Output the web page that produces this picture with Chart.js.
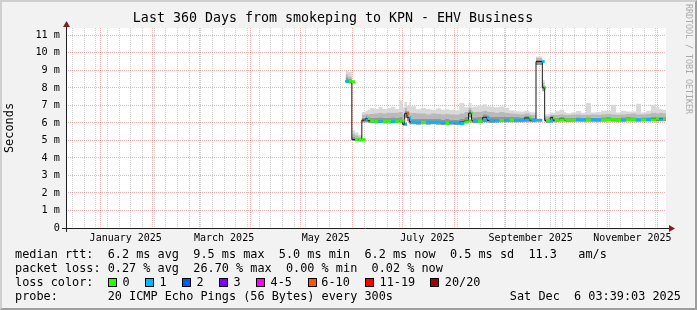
<!DOCTYPE html>
<html>
<head>
<meta charset="utf-8">
<script src="https://cdn.jsdelivr.net/npm/chart.js@4/dist/chart.umd.min.js"></script>
<style>
html,body{margin:0;padding:0;background:#f2f2f2;}
#wrap{position:relative;width:697px;height:310px;overflow:hidden;background:#f2f2f2;font-family:'DejaVu Sans Mono',monospace;color:#000;}
#frame{position:absolute;left:0;top:0;width:697px;height:310px;box-sizing:border-box;border-top:2px solid #cfcfcf;border-left:2px solid #cfcfcf;border-right:2px solid #9e9e9e;border-bottom:2px solid #9e9e9e;}
#c{position:absolute;left:0;top:0;width:697px;height:310px;}
.t{position:absolute;white-space:pre;font-size:11.85px;line-height:14px;}
.sw{position:absolute;width:9px;height:9px;box-sizing:border-box;border:1px solid #000;}
#wm{position:absolute;left:684px;top:4px;writing-mode:vertical-rl;font-size:8.3px;line-height:9px;color:#a9a9a9;white-space:pre;}
</style>
</head>
<body>
<div id="wrap">
  <div id="frame"></div>
  <canvas id="c" width="697" height="310"></canvas>
  <div id="wm">RRDTOOL / TOBI OETIKER</div>
  <div class="t" style="left:15px;top:247px;">median rtt:  6.2 ms avg  9.5 ms max  5.0 ms min  6.2 ms now  0.5 ms sd  11.3   am/s</div>
  <div class="t" style="left:15px;top:261px;">packet loss: 0.27 % avg  26.70 % max  0.00 % min  0.02 % now</div>
  <div class="t" style="left:15px;top:275px;">loss color:</div>
  <div id="lossLegend"></div>
  <div class="t" style="left:15px;top:289px;">probe:       20 ICMP Echo Pings (56 Bytes) every 300s</div>
  <div class="t" style="right:16px;top:289px;">Sat Dec  6 03:39:03 2025</div>
</div>
<script>
// ---------------- data (x = days since graph start, Dec 11 2024 03:39) ----------------
const days = [
  167.7, 169.5, 171.5,
  173.4, 175.5, 177.5,
  179.7, 181.0, 182.5, 185, 187.5, 190, 192.5, 195, 197.5, 200, 202,
  203.2, 204.6, 206.0,
  207, 210, 213, 216, 219, 222, 225, 227.5, 230, 233, 236, 239, 241.5,
  243.3,
  244.2, 247, 250, 252.6, 254, 257, 260, 263, 266, 269, 272, 275, 278, 279.2, 282,
  285.8, 287.2,
  288, 290.5, 292.2, 293.2, 296, 299, 300, 303, 306, 309,
  312, 315, 318, 321, 324, 327, 330, 333, 336, 339,
  342, 345, 348, 351, 354, 356, 358, 360
];
// median rtt in milliseconds
const median = [
  8.36, 8.38, 8.35,
  5.05, 5.02, 5.05,
  6.16, 6.25, 6.12, 6.10, 6.08, 6.10, 6.09, 6.08, 6.10, 6.10, 6.12,
  5.92, 6.55, 6.30,
  6.05, 6.04, 6.03, 6.04, 6.03, 6.04, 6.03, 5.98, 6.02, 6.01, 5.97, 6.05, 6.12,
  6.56,
  6.12, 6.10, 6.12, 6.32, 6.14, 6.12, 6.14, 6.15, 6.16, 6.15, 6.16, 6.15, 6.28, 6.16, 6.15,
  9.50, 8.00,
  6.14, 6.10, 6.30, 6.15, 6.16, 6.22, 6.16, 6.15, 6.17, 6.18,
  6.16, 6.18, 6.17, 6.16, 6.18, 6.20, 6.17, 6.16, 6.18, 6.20,
  6.18, 6.17, 6.19, 6.18, 6.24, 6.18, 6.25, 6.20
];
// lost pings out of 20
const lossCount = [
  1, 0, 0,
  0, 0, 0,
  1, 0, 0, 0, 1, 0, 0, 1, 0, 0, 0,
  1, 7, 1,
  1, 1, 0, 1, 1, 1, 1, 0, 1, 1, 1, 0, 0,
  0,
  1, 0, 1, 1, 1, 1, 0, 1, 0, 1, 1, 1, 0, 1, 1,
  1, 0,
  0, 1, 0, 0, 0, 0, 0, 0, 1, 1,
  0, 1, 1, 0, 0, 0, 0, 1, 0, 0,
  1, 0, 1, 0, 0, 1, 0, 0
];
// smoke: spread of the individual pings (ms)
const smokeLow = [
  8.25, 8.28, 8.25,
  4.97, 4.95, 4.98,
  6.02, 6.05, 6.00, 5.98, 5.97, 5.99, 5.97, 5.96, 5.98, 5.99, 6.00,
  5.82, 6.30, 6.10,
  5.92, 5.92, 5.90, 5.92, 5.90, 5.92, 5.90, 5.88, 5.90, 5.90, 5.88, 5.93, 6.00,
  6.30,
  6.00, 5.98, 6.00, 6.10, 6.02, 6.00, 6.02, 6.03, 6.04, 6.03, 6.04, 6.03, 6.10, 6.04, 6.03,
  9.30, 7.80,
  6.04, 6.00, 6.10, 6.05, 6.06, 6.10, 6.06, 6.05, 6.07, 6.08,
  6.06, 6.08, 6.07, 6.06, 6.08, 6.10, 6.07, 6.06, 6.08, 6.10,
  6.08, 6.07, 6.09, 6.08, 6.12, 6.08, 6.12, 6.10
];
const smokeQ1 = [
  8.55, 8.60, 8.50,
  5.20, 5.15, 5.12,
  6.30, 6.40, 6.30, 6.30, 6.28, 6.32, 6.30, 6.30, 6.32, 6.30, 6.35,
  6.15, 6.70, 6.50,
  6.25, 6.24, 6.22, 6.25, 6.22, 6.24, 6.22, 6.20, 6.22, 6.20, 6.18, 6.25, 6.35,
  6.75,
  6.35, 6.32, 6.35, 6.50, 6.38, 6.35, 6.36, 6.36, 6.35, 6.34, 6.34, 6.32, 6.42, 6.32, 6.30,
  9.60, 8.15,
  6.28, 6.25, 6.40, 6.30, 6.30, 6.35, 6.30, 6.30, 6.30, 6.32,
  6.30, 6.32, 6.30, 6.30, 6.32, 6.33, 6.30, 6.30, 6.32, 6.33,
  6.32, 6.30, 6.32, 6.32, 6.36, 6.32, 6.36, 6.33
];
const smokeQ2 = [
  8.72, 8.78, 8.65,
  5.38, 5.30, 5.22,
  6.48, 6.52, 6.50, 6.52, 6.55, 6.58, 6.55, 6.60, 6.58, 6.60, 6.62,
  6.50, 6.85, 6.70,
  6.55, 6.58, 6.55, 6.55, 6.50, 6.55, 6.52, 6.50, 6.52, 6.50, 6.48, 6.55, 6.62,
  6.85,
  6.60, 6.62, 6.65, 6.70, 6.65, 6.62, 6.60, 6.62, 6.58, 6.55, 6.52, 6.50, 6.55, 6.48, 6.45,
  9.70, 8.30,
  6.40, 6.38, 6.48, 6.45, 6.45, 6.50, 6.48, 6.45, 6.48, 6.50,
  6.45, 6.48, 6.50, 6.48, 6.50, 6.52, 6.50, 6.48, 6.50, 6.52,
  6.55, 6.50, 6.50, 6.52, 6.58, 6.55, 6.60, 6.55
];
const smokeHigh = [
  8.84, 8.97, 8.90,
  5.56, 5.45, 5.32,
  6.62, 6.70, 6.75, 6.85, 6.80, 6.90, 6.80, 6.85, 6.92, 6.80, 7.30,
  6.90, 7.20, 7.00,
  7.20, 6.95, 6.78, 6.85, 6.80, 6.75, 6.82, 6.75, 6.78, 6.75, 6.72, 7.13, 6.90,
  7.13,
  6.90, 6.94, 7.00, 7.07, 6.95, 6.94, 6.90, 6.94, 6.85, 6.72, 6.66, 6.65, 6.70, 6.62, 6.60,
  9.79, 8.45,
  6.47, 6.50, 6.60, 6.55, 6.66, 6.75, 6.62, 6.55, 6.60, 6.68,
  6.58, 7.13, 6.60, 6.62, 6.70, 6.70, 7.04, 6.60, 6.70, 6.65,
  6.65, 7.10, 6.60, 6.70, 7.04, 6.90, 6.80, 6.75
];
const yTickValues = [0, 1, 2, 3, 4, 5, 6, 7, 8, 9, 10, 11];
const yTickLabels = ['0', '1 m', '2 m', '3 m', '4 m', '5 m', '6 m', '7 m', '8 m', '9 m', '10 m', '11 m'];
const xLabelNames = ['January 2025', 'March 2025', 'May 2025', 'July 2025', 'September 2025', 'November 2025'];
const xLabelMonths = [0, 2, 4, 6, 8, 10];
const lossLabels = ['0', '1', '2', '3', '4-5', '6-10', '11-19', '20/20'];
const lossUpper = [0, 1, 2, 3, 5, 10, 19, 20];
const lossColors = ['#26ff00', '#00b8ff', '#0059ff', '#7e00ff', '#ff00ff', '#ff5500', '#ff0000', '#a10000'];

// ---------------- layout / helpers ----------------
const swatchX = [108, 145.3, 182.2, 219, 256.4, 307.6, 365.3, 430.2];
const swLabelX = [122.5, 159.5, 196.5, 233.5, 270.5, 321.3, 379.5, 444.8];
const legendBox = document.getElementById('lossLegend');
lossLabels.forEach((lab, i) => {
  const s = document.createElement('div');
  s.className = 'sw'; s.style.left = swatchX[i] + 'px'; s.style.top = '278px'; s.style.background = lossColors[i];
  legendBox.appendChild(s);
  const t = document.createElement('div');
  t.className = 't'; t.style.left = swLabelX[i] + 'px'; t.style.top = '275px'; t.textContent = lab;
  legendBox.appendChild(t);
});

const lossColor = n => { for (let i = 0; i < lossUpper.length; i++) if (n <= lossUpper[i]) return lossColors[i]; return lossColors[lossColors.length - 1]; };

const DAY = 86400000;
const T0 = Date.UTC(2024, 11, 11, 3, 39, 3);
const dayOf = (y, m, d) => (Date.UTC(y, m, d) - T0) / DAY;

const majorDays = [];
for (let m = 0; m < 12; m++) majorDays.push(dayOf(2025, m, 1));
const xTicks = [];
for (let d = dayOf(2024, 11, 15); d <= 360; d += 7) {
  if (!majorDays.some(v => Math.abs(v - d) < 0.01)) xTicks.push({ value: d, kind: 'minor' });
}
majorDays.forEach(d => xTicks.push({ value: d, kind: 'major' }));
xLabelMonths.forEach((m, i) => xTicks.push({ value: dayOf(2025, m, 16), kind: 'label', name: xLabelNames[i] }));
xTicks.sort((a, b) => a.value - b.value);

const GRID = 'rgba(143,143,143,0.42)';
const MGRID = 'rgba(222,79,79,0.45)';

const pts = arr => days.map((d, i) => ({ x: d, y: arr[i] }));
const markPts = days.slice(0, -1).map((d, i) => ({ x: (d + days[i + 1]) / 2, y: median[i] }));

const bgPlugin = {
  id: 'plotBg',
  beforeDraw(chart) {
    const { ctx, chartArea: a } = chart;
    ctx.save(); ctx.fillStyle = '#ffffff';
    ctx.fillRect(a.left, a.top, a.right - a.left, a.bottom - a.top);
    ctx.restore();
  }
};
const axesPlugin = {
  id: 'rrdAxes',
  afterDatasetsDraw(chart) {
    const { ctx, chartArea: a } = chart;
    const yb = Math.round(a.bottom) + 0.5, xl = Math.round(a.left) + 0.5;
    ctx.save();
    ctx.strokeStyle = '#1f1f1f'; ctx.lineWidth = 1;
    ctx.beginPath();
    ctx.moveTo(a.left - 4, yb); ctx.lineTo(a.right + 3, yb);
    ctx.moveTo(xl, a.bottom + 4); ctx.lineTo(xl, a.top - 1);
    ctx.stroke();
    ctx.fillStyle = '#801f1f';
    ctx.beginPath(); ctx.moveTo(a.right + 3, yb - 3.5); ctx.lineTo(a.right + 9, yb); ctx.lineTo(a.right + 3, yb + 3.5); ctx.closePath(); ctx.fill();
    ctx.beginPath(); ctx.moveTo(xl - 3.5, a.top - 1); ctx.lineTo(xl, a.top - 7); ctx.lineTo(xl + 3.5, a.top - 1); ctx.closePath(); ctx.fill();
    ctx.restore();
  }
};

Chart.defaults.font.family = "'DejaVu Sans Mono', monospace";
Chart.defaults.color = '#000';

new Chart(document.getElementById('c'), {
  type: 'line',
  data: {
    datasets: [
      { // loss-coloured median marks
        data: markPts, showLine: false, pointStyle: 'line', pointBorderWidth: 3,
        pointRadius: ctx => {
          const i = ctx.dataIndex, s = ctx.chart.scales.x;
          return (s.getPixelForValue(days[i + 1]) - s.getPixelForValue(days[i])) / 2;
        },
        pointBorderColor: ctx => lossColor(lossCount[ctx.dataIndex]),
        pointBackgroundColor: ctx => lossColor(lossCount[ctx.dataIndex])
      },
      { data: pts(median), stepped: 'after', borderColor: '#1a1a1a', borderWidth: 1, pointRadius: 0, fill: false },
      { data: pts(smokeLow), stepped: 'after', borderWidth: 0, borderColor: 'rgba(0,0,0,0)', pointRadius: 0, fill: false },
      { data: pts(smokeQ1), stepped: 'after', borderWidth: 0, borderColor: 'rgba(0,0,0,0)', pointRadius: 0, fill: '-1', backgroundColor: '#969696' },
      { data: pts(smokeQ2), stepped: 'after', borderWidth: 0, borderColor: 'rgba(0,0,0,0)', pointRadius: 0, fill: '-1', backgroundColor: '#b9b9b9' },
      { data: pts(smokeHigh), stepped: 'after', borderWidth: 0, borderColor: 'rgba(0,0,0,0)', pointRadius: 0, fill: '-1', backgroundColor: '#d9d9d9' }
    ]
  },
  options: {
    responsive: false, animation: false, events: [],
    layout: { padding: { left: 0, right: 31, top: 0, bottom: 62 } },
    plugins: {
      legend: { display: false }, tooltip: { enabled: false },
      title: {
        display: true, text: 'Last 360 Days from smokeping to KPN - EHV Business',
        font: { size: 13.3, weight: 'normal' }, color: '#000', padding: { top: 11, bottom: 1 }
      }
    },
    scales: {
      x: {
        type: 'linear', min: 0, max: 360,
        afterBuildTicks: s => { s.ticks = xTicks.map(t => Object.assign({}, t)); },
        afterFit: s => { s.height = 20; },
        ticks: {
          autoSkip: false, maxRotation: 0, minRotation: 0, padding: 4,
          font: { size: 10 }, color: '#000',
          callback: (v, i, ticks) => ticks[i].name || ''
        },
        grid: {
          drawTicks: false, lineWidth: 1,
          color: c => !c.tick ? 'rgba(0,0,0,0)' : c.tick.kind === 'major' ? MGRID : c.tick.kind === 'minor' ? GRID : 'rgba(0,0,0,0)'
        },
        border: { display: false, dash: c => (c.tick ? [1, 1] : []) }
      },
      y: {
        type: 'linear', min: 0, max: 11.42,
        afterBuildTicks: s => {
          const t = [];
          yTickValues.forEach((v, i) => {
            t.push({ value: v, kind: v === 0 ? 'zero' : 'major', name: yTickLabels[i] });
            if (i < yTickValues.length - 1) t.push({ value: v + 0.5, kind: 'minor', name: '' });
          });
          s.ticks = t;
        },
        afterFit: s => { s.width = 66; },
        ticks: {
          padding: 6, font: { size: 10.2 }, color: '#000',
          callback: (v, i, ticks) => ticks[i].name || ''
        },
        grid: {
          drawTicks: false, lineWidth: 1,
          color: c => !c.tick ? 'rgba(0,0,0,0)' : c.tick.kind === 'major' ? MGRID : c.tick.kind === 'minor' ? GRID : 'rgba(0,0,0,0)'
        },
        border: { display: false, dash: c => (c.tick ? [1, 1] : []) },
        title: { display: true, text: 'Seconds', font: { size: 11.9 }, color: '#000', padding: { top: 3, bottom: 0 } }
      }
    }
  },
  plugins: [bgPlugin, axesPlugin]
});
</script>
</body>
</html>
